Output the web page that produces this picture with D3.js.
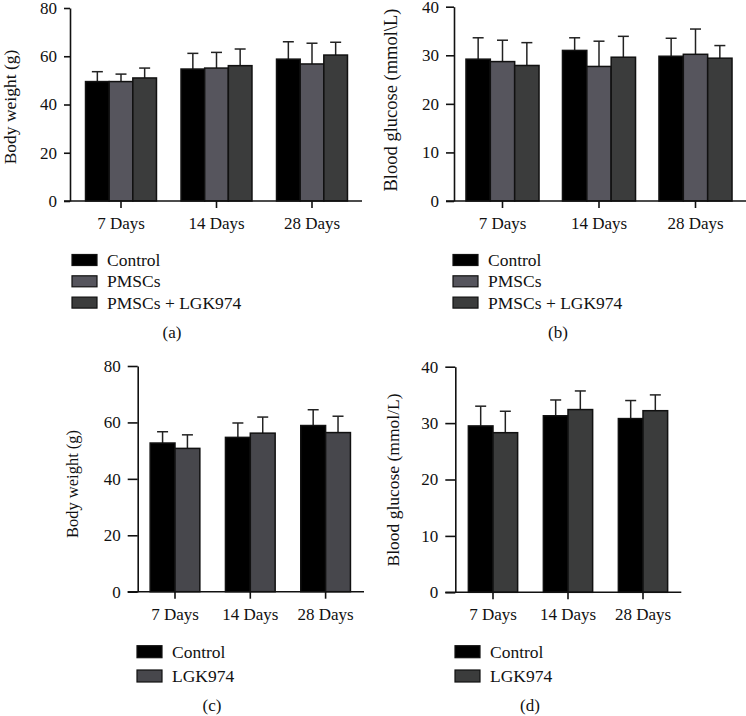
<!DOCTYPE html>
<html>
<head>
    <meta charset="utf-8">
    <title>Body weight and blood glucose</title>
    <script src="https://d3js.org/d3.v7.min.js"></script>
    <style>
        body { margin: 0; background: #fff; }
        text { font-family: "Liberation Serif", "DejaVu Serif", serif; fill: #111; }
    </style>
</head>
<body>
    <svg id="fig"></svg>
    <script>
        // categories and groups
        const days = ["7 Days", "14 Days", "28 Days"];
        const groups3 = ["Control", "PMSCs", "PMSCs + LGK974"];
        const groups2 = ["Control", "LGK974"];

        // means and upper error (per day, per group)
        const weightA = [[49.5, 49.5, 51.0], [54.7, 55.1, 56.1], [58.8, 56.8, 60.5]];
        const weightAErr = [[4.1, 3.1, 4.1], [6.5, 6.5, 6.9], [7.2, 8.6, 5.3]];
        const glucoseB = [[29.2, 28.7, 27.9], [31.0, 27.7, 29.6], [29.8, 30.2, 29.4]];
        const glucoseBErr = [[4.4, 4.4, 4.7], [2.6, 5.2, 4.3], [3.7, 5.2, 2.6]];
        const weightC = [[52.7, 50.8], [54.7, 56.2], [58.9, 56.4]];
        const weightCErr = [[4.0, 4.8], [5.1, 5.7], [5.6, 5.8]];
        const glucoseD = [[29.5, 28.3], [31.3, 32.4], [30.8, 32.2]];
        const glucoseDErr = [[3.5, 3.8], [2.8, 3.3], [3.2, 2.8]];

        // y tick labels
        const weightTicks = [0, 20, 40, 60, 80];
        const glucoseTicks = [0, 10, 20, 30, 40];

        const svg = d3.select('#fig')
            .attr('width', 746)
            .attr('height', 716);

        function drawPanel(p) {
            const g = svg.append('g');

            const y = d3.scaleLinear()
                .domain([0, p.ticks[p.ticks.length - 1]])
                .range([p.bottom, p.top]);

            const x = d3.scaleBand()
                .domain(days)
                .range(p.xRange)
                .paddingInner(p.pad)
                .paddingOuter(p.pad / 2);

            const xg = d3.scaleBand()
                .domain(p.groups)
                .range([0, x.bandwidth()]);

            // y axis
            const yAxis = g.append('g')
                .attr('transform', `translate(${p.left},0)`)
                .call(d3.axisLeft(y).tickValues(p.ticks).tickSize(p.yTick).tickSizeOuter(0).tickPadding(7));
            yAxis.select('.domain').attr('stroke', '#111').attr('stroke-width', 1.6);
            yAxis.selectAll('.tick line').attr('stroke', '#111').attr('stroke-width', 1.6);
            yAxis.selectAll('.tick text').attr('font-size', 17).attr('fill', '#111')
                .attr('font-family', '"Liberation Serif", serif');

            // bars
            days.forEach((d, i) => {
                p.groups.forEach((grp, j) => {
                    const bx = x(d) + xg(grp);
                    const v = p.values[i][j];
                    const e = p.errors[i][j];
                    const cx = bx + xg.bandwidth() / 2;
                    // error bar (upper only)
                    g.append('line')
                        .attr('x1', cx).attr('x2', cx)
                        .attr('y1', y(v)).attr('y2', y(v + e))
                        .attr('stroke', '#222').attr('stroke-width', 1.5);
                    g.append('line')
                        .attr('x1', cx - 5.5).attr('x2', cx + 5.5)
                        .attr('y1', y(v + e)).attr('y2', y(v + e))
                        .attr('stroke', '#222').attr('stroke-width', 1.5);
                    g.append('rect')
                        .attr('x', bx)
                        .attr('y', y(v))
                        .attr('width', xg.bandwidth())
                        .attr('height', y(0) - y(v))
                        .attr('fill', p.colors[j])
                        .attr('stroke', '#111')
                        .attr('stroke-width', 1.5);
                });
            });

            // x axis
            const xAxis = g.append('g')
                .attr('transform', `translate(0,${p.bottom})`)
                .call(d3.axisBottom(x).tickSize(7).tickSizeOuter(0).tickPadding(9));
            xAxis.select('.domain').remove();
            xAxis.selectAll('.tick line').attr('stroke', '#111').attr('stroke-width', 1.6);
            xAxis.selectAll('.tick text').attr('font-size', 17).attr('fill', '#111')
                .attr('font-family', '"Liberation Serif", serif');
            g.append('line')
                .attr('x1', p.left - p.yTick).attr('x2', p.axisEnd)
                .attr('y1', p.bottom).attr('y2', p.bottom)
                .attr('stroke', '#111').attr('stroke-width', 1.6);

            // y title
            g.append('text')
                .attr('transform', `translate(${p.titleX},${p.titleY}) rotate(-90)`)
                .attr('text-anchor', 'middle')
                .attr('dominant-baseline', 'central')
                .attr('font-size', p.titleSize)
                .text(p.title);

            // legend
            p.groups.forEach((grp, j) => {
                const ly = p.legY + j * p.legStep;
                g.append('rect')
                    .attr('x', p.legX).attr('y', ly - p.swH / 2)
                    .attr('width', 25).attr('height', p.swH)
                    .attr('fill', p.colors[j])
                    .attr('stroke', '#111').attr('stroke-width', 1.2);
                g.append('text')
                    .attr('x', p.legX + 35).attr('y', ly + 6)
                    .attr('font-size', 17.5)
                    .text(grp);
            });

            // panel label
            g.append('text')
                .attr('x', p.labelX).attr('y', p.labelY)
                .attr('text-anchor', 'middle')
                .attr('font-size', 17)
                .text(p.label);
        }

        drawPanel({
            groups: groups3, values: weightA, errors: weightAErr, ticks: weightTicks,
            colors: ['#000000', '#56555d', '#3b3c3c'],
            left: 70, top: 8, bottom: 201, xRange: [73.25, 359.75], pad: 0.257,
            axisEnd: 362, yTick: 6,
            title: 'Body weight (g)', titleX: 10, titleY: 107, titleSize: 17.5,
            legX: 72, legY: 260, legStep: 21.3, swH: 11,
            label: '(a)', labelX: 172, labelY: 338
        });

        drawPanel({
            groups: groups3, values: glucoseB, errors: glucoseBErr, ticks: glucoseTicks,
            colors: ['#000000', '#56555d', '#3b3c3c'],
            left: 454, top: 6.7, bottom: 201, xRange: [454.25, 743.75], pad: 0.243,
            axisEnd: 746, yTick: 8,
            title: 'Blood glucose (mmol\\L)', titleX: 391, titleY: 100, titleSize: 18.5,
            legX: 453, legY: 260, legStep: 21.3, swH: 11,
            label: '(b)', labelX: 558, labelY: 338
        });

        drawPanel({
            groups: groups2, values: weightC, errors: weightCErr, ticks: weightTicks,
            colors: ['#000000', '#47474c'],
            left: 137.7, top: 366, bottom: 591.7, xRange: [137.35, 363.25], pad: 0.34,
            axisEnd: 364, yTick: 10,
            title: 'Body weight (g)', titleX: 72.5, titleY: 484, titleSize: 16.5,
            legX: 137, legY: 651.7, legStep: 24.3, swH: 12,
            label: '(c)', labelX: 212, labelY: 711
        });

        drawPanel({
            groups: groups2, values: glucoseD, errors: glucoseDErr, ticks: glucoseTicks,
            colors: ['#000000', '#3b3c3c'],
            left: 455.3, top: 366.7, bottom: 592.3, xRange: [455.5, 680.5], pad: 0.343,
            axisEnd: 681.3, yTick: 10,
            title: 'Blood glucose (mmol/L)', titleX: 393, titleY: 480, titleSize: 17.5,
            legX: 455, legY: 651.7, legStep: 24.3, swH: 12,
            label: '(d)', labelX: 530, labelY: 711
        });
    </script>
</body>
</html>
